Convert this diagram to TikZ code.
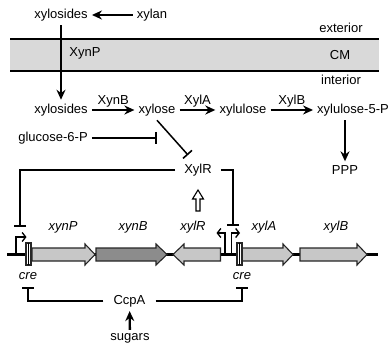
\documentclass[tikz,border=0pt]{standalone}
\usepackage{fontspec}
\setmainfont{Liberation Sans}
\usetikzlibrary{arrows.meta}

\begin{document}
\begin{tikzpicture}[x=1pt,y=-1pt,font=\fontsize{13}{15}\selectfont]
            \tikzstyle{lbl}=[inner sep=4pt]
            \tikzstyle{gn}=[inner sep=1pt, font=\fontsize{13}{15}\selectfont\itshape]
            \tikzstyle{conv}=[line width=2.3pt, -{Stealth[length=10pt,width=9pt]}]
            \tikzstyle{inhib}=[line width=1.5pt, -{Bar[width=12pt,line width=1.6pt]}]
            \tikzstyle{prom}=[line width=1.3pt, -{Straight Barb[length=3.5pt,width=9pt,line width=1.3pt]}]
            \tikzstyle{genebox}=[draw=black!85, line width=1.1pt]
            \useasboundingbox (0,0) rectangle (391,350);
            % membrane
            \fill[black!15] (10,39) rectangle (379,71);
            \draw[line width=2.2pt] (10,39) -- (379,39);
            \draw[line width=2.2pt] (10,71) -- (379,71);
            {\node[lbl] (xs1) at (61,15){xylosides};
            \node[lbl] (xn) at (152,15){xylan};
            \node (ext) at (341,28){exterior};
            \node (cm) at (340,55){CM};
            \node (xynp) at (85,53){XynP};
            \node (int) at (341,80){interior};
            \node[lbl] (xs2) at (61,110){xylosides};
            \node[lbl] (xl) at (157,110){xylose};
            \node[lbl] (xu) at (243,110){xylulose};
            \node[lbl] (x5p) at (353,110){xylulose-5-P};
            \node[lbl] (ppp) at (345,170){PPP};
            \node[lbl] (g6p) at (53,138){glucose-6-P};
            \node[lbl, inner xsep=9pt] (xr) at (198,170){XylR};
            \node[lbl, inner xsep=10pt] (ccpa) at (129.5,301){CcpA};
            \node[lbl] (sug) at (130,338){sugars};}
            % gene names
            {\node[gn] (gP) at (63,227){xynP};
            \node[gn] (gB) at (133,227){xynB};
            \node[gn] (gR) at (193,227){xylR};
            \node[gn] (gA) at (264,227){xylA};
            \node[gn] (gXB) at (336,227){xylB};
            \node[gn] (cre1) at (28,276){cre};
            \node[gn] (cre2) at (242,276){cre};}
            \coordinate (xrt) at (188,155);
            \coordinate (g6pt) at (157,138);
            \coordinate (pl) at (20,227);
            \coordinate (pr) at (233,226);
            \coordinate (c1) at (28,287);
            \coordinate (c2) at (242,287);
\path (xn) edge [conv] (xs1);
            \path (xs1) edge [conv] (xs2);
            \path (xs2) edge [conv] node[above, inner sep=2pt] {XynB} (xl);
            \path (xl) edge [conv] node[above, inner sep=2pt] {XylA} (xu);
            \path (xu) edge [conv] node[above, inner sep=2pt] {XylB} (x5p);
            \path (ppp |- x5p.south) edge [conv] (ppp);
            \path (xl.south) edge [inhib] (xrt);
            \path (g6p) edge [inhib] (g6pt);
            \draw[inhib] (xr.west) -| (pl);
            \draw[inhib] (xr.east) -| (pr);
            \draw[inhib] (ccpa.west) -| (c1);
            \draw[inhib] (ccpa.east) -| (c2);
            \path (sug) edge [conv, shorten <=-1pt] (ccpa);
            % hollow arrow xylR -> XylR
            \draw[line width=1.1pt, fill=white] (196,211) -- (196,199) -- (192.5,199) -- (198,190) -- (203.5,199) -- (200,199) -- (200,211) -- cycle;
            % DNA and genes
            \draw[line width=2.3pt] (7,254.5) -- (378,254.5);
            \filldraw[genebox, fill=black!22] (32,248) -- (85,248) -- (85,244) -- (95,254.5) -- (85,265) -- (85,261) -- (32,261) -- cycle;
            \filldraw[genebox, fill=black!45] (96,248) -- (156,248) -- (156,244) -- (167,254.5) -- (156,265) -- (156,261) -- (96,261) -- cycle;
            \filldraw[genebox, fill=black!22] (220.5,248) -- (184,248) -- (184,244) -- (173,254.5) -- (184,265) -- (184,261) -- (220.5,261) -- cycle;
            \filldraw[genebox, fill=black!22] (242,248) -- (283,248) -- (283,244) -- (293,254.5) -- (283,265) -- (283,261) -- (242,261) -- cycle;
            \filldraw[genebox, fill=black!22] (300,248) -- (357,248) -- (357,244) -- (367,254.5) -- (357,265) -- (357,261) -- (300,261) -- cycle;
            % cre boxes
            \filldraw[genebox, fill=white] (26,243) rectangle (31,265);
            \draw[line width=0.8pt] (28.5,243) -- (28.5,265);
            \filldraw[genebox, fill=white] (237,243) rectangle (242,265);
            \draw[line width=0.8pt] (239.5,243) -- (239.5,265);
            % promoters
            \draw[prom] (16,254.5) -- (16,237) -- (26.5,237);
            \draw[prom] (225,254.5) -- (225,233) -- (216.5,233);
            \draw[prom] (231.5,254.5) -- (231.5,233) -- (240,233);
        \end{tikzpicture}
\end{document}
